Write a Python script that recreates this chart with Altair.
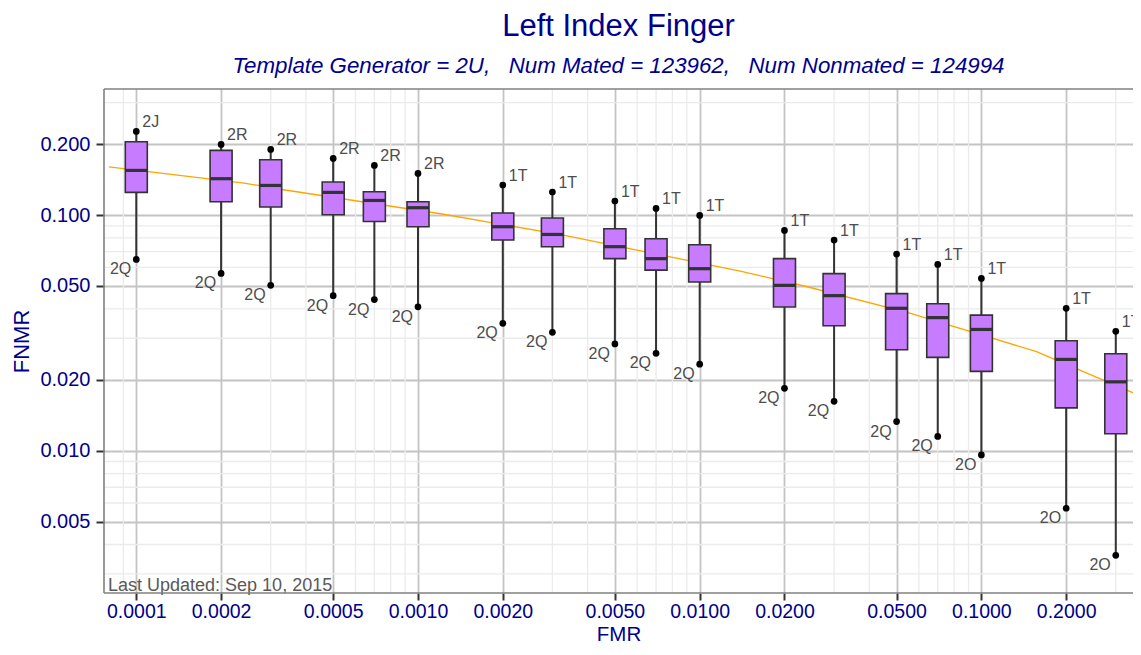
import altair as alt
import pandas as pd

# ---- data ----
fmr = [0.0001, 0.0002, 0.0003, 0.0005, 0.0007, 0.001, 0.002, 0.003, 0.005,
       0.007, 0.01, 0.02, 0.03, 0.05, 0.07, 0.1, 0.2, 0.3]
hi = [0.2263, 0.1993, 0.1898, 0.1739, 0.1623, 0.1501, 0.1341, 0.1252, 0.1147,
      0.1067, 0.0996, 0.0860, 0.0783, 0.0683, 0.0617, 0.0538, 0.0402, 0.0321]
q3 = [0.2046, 0.1880, 0.1717, 0.1380, 0.1256, 0.1139, 0.1020, 0.0971, 0.0875,
      0.0793, 0.0748, 0.0653, 0.0564, 0.0464, 0.0420, 0.0376, 0.0293, 0.0258]
med = [0.1546, 0.1426, 0.1335, 0.1247, 0.1153, 0.1074, 0.0892, 0.0827, 0.0734,
       0.0653, 0.0592, 0.0503, 0.0455, 0.0402, 0.0367, 0.0327, 0.0244, 0.0196]
q1 = [0.1247, 0.1139, 0.1081, 0.1003, 0.0939, 0.0892, 0.0783, 0.0734, 0.0653,
      0.0584, 0.0520, 0.0407, 0.0339, 0.0268, 0.0249, 0.0217, 0.0152, 0.0118]
lo = [0.0648, 0.0565, 0.0503, 0.0455, 0.0438, 0.0408, 0.0347, 0.0318, 0.0284,
      0.0259, 0.0233, 0.0184, 0.0162, 0.0133, 0.0115, 0.0096, 0.0057, 0.0036]
top_lab = ["2J", "2R", "2R", "2R", "2R", "2R"] + ["1T"] * 12
bot_lab = ["2Q"] * 15 + ["2O"] * 3

curve_fmr = [7.99e-5, 2.413e-4, 3.335e-4, 1.217e-3, 3.214e-3, 0.01379,
             0.02429, 0.05531, 0.1561, 0.3534, 0.38]
curve_fnmr = [0.1599, 0.1367, 0.1280, 0.1010, 0.0825, 0.0580,
              0.0495, 0.0384, 0.0264, 0.0174, 0.0168]

x_major = [0.0001, 0.0002, 0.0005, 0.001, 0.002, 0.005, 0.01, 0.02, 0.05, 0.1, 0.2]
x_minor = [0.00009, 0.0003, 0.0004, 0.0006, 0.0007, 0.0008, 0.0009,
           0.003, 0.004, 0.006, 0.007, 0.008, 0.009,
           0.03, 0.04, 0.06, 0.07, 0.08, 0.09, 0.3]
y_major = [0.005, 0.01, 0.02, 0.05, 0.1, 0.2]
y_minor = [0.003, 0.004, 0.006, 0.007, 0.008, 0.009,
           0.03, 0.04, 0.06, 0.07, 0.08, 0.09, 0.3]

title_text = "Left Index Finger"
subtitle_text = ("Template Generator = 2U,\u00a0\u00a0\u00a0Num Mated = 123962,"
                 "\u00a0\u00a0\u00a0Num Nonmated = 124994")
note_text = "Last Updated: Sep 10, 2015"

boxes = pd.DataFrame({"fmr": fmr, "hi": hi, "q3": q3, "med": med, "q1": q1,
                      "lo": lo, "top": top_lab, "bot": bot_lab})
curve = pd.DataFrame({"fmr": curve_fmr, "fnmr": curve_fnmr})
xmin_df = pd.DataFrame({"v": x_minor})
ymin_df = pd.DataFrame({"v": y_minor})
note_df = pd.DataFrame({"t": [note_text]})
one_df = pd.DataFrame({"a": [0]})

FONT = "Liberation Sans"
W, H = 1029, 504
BORDER = "#808080"

xscale = alt.Scale(type="log", domain=[8.0e-5, 0.3315], nice=False)
yscale = alt.Scale(type="log", domain=[0.002491, 0.3425], nice=False)
xaxis = alt.Axis(values=x_major, format=".4f", title="FMR", labelOverlap=False,
                 labelFlush=False, labelPadding=2, tickSize=7, labelFontSize=19.5,
                 titleBaseline="alphabetic", titleY=47, titleFontSize=20.5)
yaxis = alt.Axis(values=y_major, format=".3f", title="FNMR", labelOverlap=False,
                 labelFlush=False, labelPadding=6, titlePadding=6)


def X(f):
    return alt.X(f, type="quantitative", scale=xscale, axis=xaxis)


def Y(f):
    return alt.Y(f, type="quantitative", scale=yscale, axis=yaxis)


vminor = alt.Chart(xmin_df).mark_rule(color="#ebebeb", strokeWidth=1.3).encode(x=X("v"))
hminor = alt.Chart(ymin_df).mark_rule(color="#ebebeb", strokeWidth=1.3).encode(y=Y("v"))

line = alt.Chart(curve).mark_line(color="orange", strokeWidth=1.3, clip=True).encode(
    x=X("fmr"), y=Y("fnmr"))

base = alt.Chart(boxes)
whisk = base.mark_rule(color="#333333", strokeWidth=2).encode(
    x=X("fmr"), y=Y("lo"), y2="hi")
box = base.mark_bar(size=22, color="#C77CFF", stroke="#333333", strokeWidth=1.6).encode(
    x=X("fmr"), y=Y("q1"), y2="q3")
median = base.mark_tick(orient="horizontal", size=22, thickness=3.2, color="#333333",
                        opacity=1).encode(x=X("fmr"), y=Y("med"))
dots_hi = base.mark_circle(size=45, color="black", opacity=1).encode(x=X("fmr"), y=Y("hi"))
dots_lo = base.mark_circle(size=45, color="black", opacity=1).encode(x=X("fmr"), y=Y("lo"))
lab_hi = base.mark_text(align="left", baseline="alphabetic", dx=6, dy=-4, fontSize=16,
                        font=FONT, color="#4d4d4d").encode(x=X("fmr"), y=Y("hi"), text="top")
lab_lo = base.mark_text(align="right", baseline="alphabetic", dx=-5, dy=15, fontSize=16,
                        font=FONT, color="#4d4d4d").encode(x=X("fmr"), y=Y("lo"), text="bot")
note = alt.Chart(note_df).mark_text(align="left", baseline="alphabetic", fontSize=18,
                                    font=FONT, color="#595959").encode(
    x=alt.value(4), y=alt.value(H - 2), text="t")

# panel border (left, top, bottom); the right side runs off the page
b_left = alt.Chart(one_df).mark_rule(color=BORDER, strokeWidth=1.6).encode(
    x=alt.value(0), y=alt.value(0), y2=alt.value(H))
b_top = alt.Chart(one_df).mark_rule(color=BORDER, strokeWidth=1.6).encode(
    x=alt.value(0), x2=alt.value(W), y=alt.value(0))
b_bot = alt.Chart(one_df).mark_rule(color=BORDER, strokeWidth=1.6).encode(
    x=alt.value(0), x2=alt.value(W), y=alt.value(H))

chart = alt.layer(vminor, hminor, line, whisk, box, median, dots_hi, dots_lo,
                  lab_hi, lab_lo, note, b_left, b_top, b_bot).properties(
    width=W, height=H,
    autosize=alt.AutoSizeParams(type="none"),
    padding={"left": 96, "top": 81, "right": 0, "bottom": 52},
    title=alt.Title(title_text, subtitle=subtitle_text),
).configure_view(
    strokeWidth=0
).configure_axis(
    grid=True, gridColor="#c4c4c4", gridWidth=1.8, domain=False,
    tickColor="#333333", tickWidth=2, tickSize=8,
    labelColor="#00008B", labelFont=FONT, labelFontSize=20,
    titleColor="#00008B", titleFont=FONT, titleFontSize=22, titleFontWeight="normal",
).configure_title(
    font=FONT, fontSize=31, fontWeight="normal", color="#00008B", anchor="middle",
    subtitleFont=FONT, subtitleFontSize=22.3, subtitleFontStyle="italic",
    subtitleColor="#00008B", subtitlePadding=12, offset=10,
)

chart.save("out.html", embed_options={"renderer": "svg", "actions": False})
